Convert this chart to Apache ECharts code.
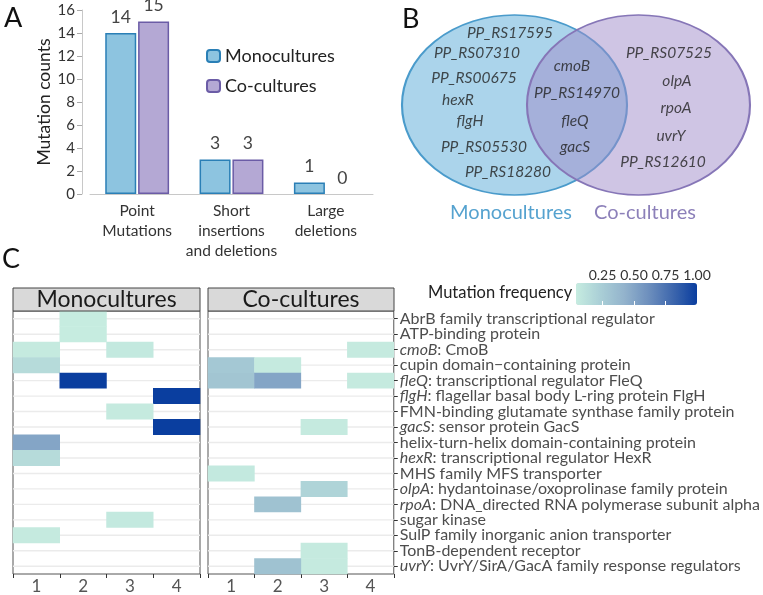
<!DOCTYPE html>
<html>
<head>
<meta charset="utf-8">
<script src="https://cdn.jsdelivr.net/npm/echarts@6/dist/echarts.min.js"></script>
<style>
html,body{margin:0;padding:0;background:#fff;}
#chart{width:763px;height:595px;}
</style>
</head>
<body>
<div id="chart"></div>
<script>
// ---------- Panel A data ----------
const barCategories = ['Point\nMutations', 'Short\ninsertions\nand deletions', 'Large\ndeletions'];
const monoCounts = [14, 3, 1];
const coCounts = [15, 3, 0];
const countTicks = [0, 2, 4, 6, 8, 10, 12, 14, 16];

// ---------- Panel B data ----------
const vennSets = ['Monocultures', 'Co-cultures'];
const vennMonoOnly = ['PP_RS17595', 'PP_RS07310', 'PP_RS00675', 'hexR', 'flgH', 'PP_RS05530', 'PP_RS18280'];
const vennShared = ['cmoB', 'PP_RS14970', 'fleQ', 'gacS'];
const vennCoOnly = ['PP_RS07525', 'olpA', 'rpoA', 'uvrY', 'PP_RS12610'];

// ---------- Panel C data ----------
const replicates = ['1', '2', '3', '4'];
const geneSymbols = ['', '', 'cmoB', '', 'fleQ', 'flgH', '', 'gacS', '', 'hexR', '', 'olpA', 'rpoA', '', '', '', 'uvrY'];
const geneProducts = [
  'AbrB family transcriptional regulator',
  'ATP-binding protein',
  'CmoB',
  'cupin domain\u2212containing protein',
  'transcriptional regulator FleQ',
  'flagellar basal body L-ring protein FlgH',
  'FMN-binding glutamate synthase family protein',
  'sensor protein GacS',
  'helix-turn-helix domain-containing protein',
  'transcriptional regulator HexR',
  'MHS family MFS transporter',
  'hydantoinase/oxoprolinase family protein',
  'DNA_directed RNA polymerase subunit alpha',
  'sugar kinase',
  'SulP family inorganic anion transporter',
  'TonB-dependent receptor',
  'UvrY/SirA/GacA family response regulators'
];
// [replicate index, gene index, mutation frequency]
const monoFreq = [
  [1, 0, 0.04], [1, 1, 0.04], [0, 2, 0.05], [2, 2, 0.06], [0, 3, 0.15],
  [1, 4, 1.0], [3, 5, 1.0], [2, 6, 0.05], [3, 7, 1.0], [0, 8, 0.5],
  [0, 9, 0.15], [2, 13, 0.06], [0, 14, 0.05]
];
const coFreq = [
  [3, 2, 0.05], [0, 3, 0.28], [1, 3, 0.05], [0, 4, 0.3], [1, 4, 0.5],
  [3, 4, 0.05], [2, 7, 0.05], [0, 10, 0.06], [2, 11, 0.2], [1, 12, 0.32],
  [2, 15, 0.05], [2, 16, 0.05], [1, 16, 0.32]
];
const freqTicks = [0.25, 0.5, 0.75, 1.0];
const freqRange = [0.04, 1.0];

// ---------- layout (not data) ----------
const FONT = 'Lato';
const vennW = 393, vennH = 240;
const vennEllipses = [
  {cx: 144.5, cy: 105, rx: 112.5, ry: 90, fill: 'rgba(120,185,222,0.62)', stroke: '#4a9bcb'},
  {cx: 268.5, cy: 105, rx: 111.5, ry: 90, fill: 'rgba(160,140,202,0.5)', stroke: '#8676b7'}
];
const vennPosMono = [[140,33],[107,53],[104,78],[88,100],[100,121],[114,147],[138,172]];
const vennPosShared = [[202,66],[207,93],[205,121],[205,147]];
const vennPosCo = [[299,53],[307,81],[306,108],[301,136],[293,162]];
const vennLabelPos = [[141,213],[275,213]];
const vennLabelColors = ['#2b8bc3', '#6f60a8'];

const geneLabels = geneProducts.map((p, i) => geneSymbols[i] ? (geneSymbols[i] + ': ' + p) : p);

const chart = echarts.init(document.getElementById('chart'), null, {renderer: 'canvas'});

const vennTextData = [];
vennMonoOnly.forEach((g, i) => vennTextData.push({name: g, value: vennPosMono[i]}));
vennShared.forEach((g, i) => vennTextData.push({name: g, value: vennPosShared[i]}));
vennCoOnly.forEach((g, i) => vennTextData.push({name: g, value: vennPosCo[i]}));

const hmAxisLabel = {
  interval: 0,
  fontFamily: FONT, fontSize: 16, color: '#4d4d4d', margin: 6,
  formatter: function (v) {
    const i = geneLabels.indexOf(v);
    if (i >= 0 && geneSymbols[i]) {
      return '{i|' + geneSymbols[i] + '}: ' + geneProducts[i];
    }
    return v;
  },
  rich: {i: {fontStyle: 'italic', fontFamily: FONT, fontSize: 16, color: '#4d4d4d'}}
};

function gridLineRender(params, api) {
  const y = api.coord([0, api.value(1)])[1];
  const cs = params.coordSys;
  return {
    type: 'line',
    shape: {x1: cs.x, y1: y, x2: cs.x + cs.width, y2: y},
    style: {stroke: '#ebebeb', lineWidth: 1.4}
  };
}
const rowData = geneLabels.map((g, i) => [0, i]);

function barItems(values) {
  return values.map(v => v === 0 ? {value: v, itemStyle: {borderWidth: 0, color: 'transparent'}} : v);
}

const option = {
  backgroundColor: '#fff',
  animation: false,
  textStyle: {fontFamily: FONT},
  title: [
    {text: 'A', left: 4, top: 5, padding: 0, textStyle: {fontSize: 27, fontWeight: 'normal', color: '#111', fontFamily: FONT}},
    {text: 'B', left: 402, top: 6, padding: 0, textStyle: {fontSize: 27, fontWeight: 'normal', color: '#111', fontFamily: FONT}},
    {text: 'C', left: 2, top: 246, padding: 0, textStyle: {fontSize: 27, fontWeight: 'normal', color: '#111', fontFamily: FONT}},
    {text: 'Mutation frequency', left: 428, top: 284, padding: 0, textStyle: {fontSize: 16.5, fontWeight: 'normal', color: '#222', fontFamily: FONT}}
  ],
  legend: {
    data: ['Monocultures', 'Co-cultures'],
    orient: 'vertical',
    left: 206, top: 47,
    padding: 0,
    itemWidth: 13, itemHeight: 12,
    itemGap: 12,
    textStyle: {fontSize: 18, color: '#222', fontFamily: FONT}
  },
  grid: [
    {left: 90, top: 10, width: 283, height: 184},                 // A
    {left: 370, top: 0, width: vennW, height: vennH},             // B
    {left: 13, top: 311, width: 187, height: 265, show: true, borderColor: '#555', borderWidth: 1, backgroundColor: 'transparent'}, // C mono
    {left: 208, top: 311, width: 186, height: 265, show: true, borderColor: '#555', borderWidth: 1, backgroundColor: 'transparent'}, // C co
    {left: 576, top: 283, width: 121, height: 22}                 // colorbar axis
  ],
  xAxis: [
    {gridIndex: 0, type: 'category', data: barCategories,
      axisLine: {lineStyle: {color: '#c8c8c8'}}, axisTick: {show: false},
      axisLabel: {fontFamily: FONT, fontSize: 15.5, color: '#333', lineHeight: 20, margin: 7, interval: 0}},
    {gridIndex: 1, type: 'value', min: 0, max: vennW, show: false},
    {gridIndex: 2, type: 'category', data: replicates,
      axisLine: {show: false}, axisTick: {show: true, length: 4, lineStyle: {color: '#333'}},
      axisLabel: {fontFamily: FONT, fontSize: 17, color: '#555', margin: 4}, splitLine: {show: false}},
    {gridIndex: 3, type: 'category', data: replicates,
      axisLine: {show: false}, axisTick: {show: true, length: 4, lineStyle: {color: '#333'}},
      axisLabel: {fontFamily: FONT, fontSize: 17, color: '#555', margin: 4}, splitLine: {show: false}},
    {gridIndex: 4, type: 'value', min: freqRange[0], max: freqRange[1], position: 'top', z: 10,
      axisLine: {show: false}, splitLine: {show: false},
      axisTick: {show: true, inside: true, length: 4, customValues: freqTicks, lineStyle: {color: '#ffffff', width: 1}},
      axisLabel: {show: true, customValues: freqTicks, formatter: v => v.toFixed(2), fontFamily: FONT, fontSize: 14, color: '#333', margin: 1}},
    {gridIndex: 4, type: 'value', min: freqRange[0], max: freqRange[1], position: 'bottom', z: 10,
      axisLine: {show: false}, splitLine: {show: false},
      axisTick: {show: true, inside: true, length: 4, customValues: freqTicks, lineStyle: {color: '#ffffff', width: 1}},
      axisLabel: {show: false}}
  ],
  yAxis: [
    {gridIndex: 0, type: 'value', min: 0, max: 16, interval: 2, offset: 8,
      name: 'Mutation counts', nameLocation: 'middle', nameGap: 29, nameRotate: 90,
      nameTextStyle: {fontFamily: FONT, fontSize: 17.5, color: '#222'},
      axisLine: {show: true, lineStyle: {color: '#c8c8c8'}},
      axisTick: {show: true, length: 5, lineStyle: {color: '#aaa'}},
      axisLabel: {fontFamily: FONT, fontSize: 15, color: '#333', margin: 7},
      splitLine: {show: false}},
    {gridIndex: 1, type: 'value', min: 0, max: vennH, inverse: true, show: false},
    {gridIndex: 2, type: 'category', data: geneLabels, inverse: true,
      axisLine: {show: false}, axisTick: {show: false}, axisLabel: {show: false}, splitLine: {show: false}},
    {gridIndex: 3, type: 'category', data: geneLabels, inverse: true, position: 'right',
      axisLine: {show: false}, axisTick: {show: true, length: 4, alignWithLabel: true, interval: 0, lineStyle: {color: '#333'}},
      axisLabel: hmAxisLabel, splitLine: {show: false}},
    {gridIndex: 4, type: 'value', show: false, min: 0, max: 1}
  ],
  visualMap: {
    type: 'continuous',
    min: freqRange[0], max: freqRange[1],
    seriesIndex: [6, 7],
    orient: 'horizontal',
    left: 576, top: 283,
    itemWidth: 22, itemHeight: 121,
    padding: 0,
    calculable: false,
    hoverLink: false,
    showLabel: false,
    text: null,
    inRange: {color: ['#c6ece0', '#aacfd6', '#93b3cc', '#6d8fbd', '#3e67ad', '#0a3e9f']}
  },
  series: [
    // 0,1: Panel A bars
    {name: 'Monocultures', type: 'bar', xAxisIndex: 0, yAxisIndex: 0, data: barItems(monoCounts),
      barWidth: 31, barGap: '6%',
      itemStyle: {color: '#8dc4e0', borderColor: '#2a7fb6', borderWidth: 1.5},
      label: {show: true, position: 'top', distance: 7, fontFamily: FONT, fontSize: 17.5, color: '#444'}},
    {name: 'Co-cultures', type: 'bar', xAxisIndex: 0, yAxisIndex: 0, data: barItems(coCounts),
      barWidth: 31, barGap: '6%',
      itemStyle: {color: '#b4a8d4', borderColor: '#6b5ca6', borderWidth: 1.5},
      label: {show: true, position: 'top', distance: 7, fontFamily: FONT, fontSize: 17.5, color: '#444'}},
    // 2: Venn ellipses
    {type: 'custom', xAxisIndex: 1, yAxisIndex: 1, silent: true, z: 1,
      data: vennSets.map((s, i) => [vennEllipses[i].cx, vennEllipses[i].cy, i]),
      renderItem: function (params, api) {
        const e = vennEllipses[api.value(2)];
        const c = api.coord([e.cx, e.cy]);
        const rx = api.size([e.rx, 0])[0];
        const ry = api.size([0, e.ry])[1];
        return {
          type: 'circle', x: c[0], y: c[1], scaleX: rx / ry, scaleY: 1,
          shape: {cx: 0, cy: 0, r: ry},
          style: {fill: e.fill, stroke: e.stroke, lineWidth: 1.7, strokeNoScale: true}
        };
      }},
    // 3: Venn gene names
    {type: 'scatter', xAxisIndex: 1, yAxisIndex: 1, silent: true, z: 5,
      symbolSize: 1, itemStyle: {color: 'rgba(0,0,0,0)'},
      data: vennTextData,
      label: {show: true, position: 'inside', formatter: p => p.name,
        fontFamily: FONT, fontStyle: 'italic', fontSize: 15.5, color: '#222'}},
    // 4: Venn set labels
    {type: 'scatter', xAxisIndex: 1, yAxisIndex: 1, silent: true, z: 5,
      symbolSize: 1, itemStyle: {color: 'rgba(0,0,0,0)'},
      data: vennSets.map((s, i) => ({name: s, value: vennLabelPos[i],
        label: {color: vennLabelColors[i]}})),
      label: {show: true, position: 'inside', formatter: p => p.name,
        fontFamily: FONT, fontSize: 20}},
    // 5: placeholder for colorbar grid
    {type: 'scatter', xAxisIndex: 4, yAxisIndex: 4, data: [], silent: true},
    // 6,7: heatmaps
    {type: 'heatmap', xAxisIndex: 2, yAxisIndex: 2, data: monoFreq, z: 3, silent: true, progressive: 0},
    {type: 'heatmap', xAxisIndex: 3, yAxisIndex: 3, data: coFreq, z: 3, silent: true, progressive: 0},
    // 8,9: horizontal grid lines at row centres
    {type: 'custom', xAxisIndex: 2, yAxisIndex: 2, data: rowData, renderItem: gridLineRender, z: 1, silent: true},
    {type: 'custom', xAxisIndex: 3, yAxisIndex: 3, data: rowData, renderItem: gridLineRender, z: 1, silent: true}
  ],
  graphic: [
    {type: 'rect', shape: {x: 13, y: 288, width: 187, height: 23}, style: {fill: '#d9d9d9', stroke: '#444', lineWidth: 1}, z: 10},
    {type: 'text', x: 106.5, y: 299.5, style: {text: 'Monocultures', font: '23px ' + FONT, fill: '#1a1a1a', textAlign: 'center', textVerticalAlign: 'middle'}, z: 11},
    {type: 'rect', shape: {x: 208, y: 288, width: 186, height: 23}, style: {fill: '#d9d9d9', stroke: '#444', lineWidth: 1}, z: 10},
    {type: 'text', x: 301, y: 299.5, style: {text: 'Co-cultures', font: '23px ' + FONT, fill: '#1a1a1a', textAlign: 'center', textVerticalAlign: 'middle'}, z: 11}
  ]
};
chart.setOption(option);
</script>
</body>
</html>
